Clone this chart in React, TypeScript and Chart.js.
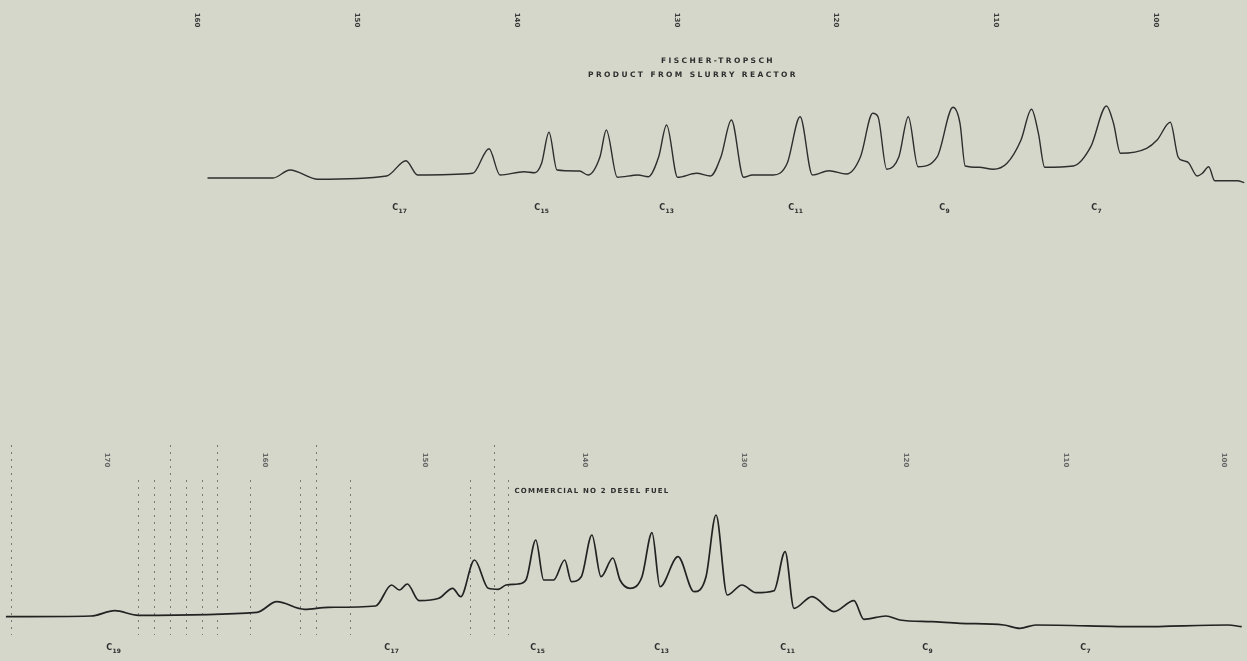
import React, { useEffect, useRef } from "react";
import { Chart, registerables } from "chart.js";
Chart.register(...registerables);

// ---- Top trace: Fischer-Tropsch product (position along chart, detector signal) ----
const topX = [207.5, 273, 290, 318, 386.6, 406, 417.6, 472.7, 489, 500, 524, 534.7, 541.6, 549, 557, 579.5, 588, 600, 606.3, 617.3, 638, 648.3, 658.7, 666.6, 677.6, 696.5, 710.5, 721, 731.4, 743.6, 752.3, 773.3, 787.2, 800.1, 812.4, 829, 846.5, 860.5, 872.7, 878, 886.7, 898.9, 908.3, 918, 937.3, 953, 960, 965.2, 979.1, 993.1, 1007, 1021, 1031.5, 1038.4, 1044.7, 1073.3, 1090.8, 1106.5, 1113.5, 1120.4, 1146.6, 1157.1, 1170.3, 1178, 1183.2, 1188.5, 1197.2, 1202.4, 1208.7, 1214.7, 1237.3, 1244.3];
const topY = [0, 0, 8, -1.3, 2, 17.3, 3, 4.7, 29.3, 3, 6.3, 5.3, 14.7, 45.7, 8, 7, 3, 21.3, 48, 0.7, 3, 1.3, 21.3, 53, 0.7, 4.7, 2, 21.3, 58, 0.7, 3, 3, 14.7, 61.3, 3, 7.3, 4, 21.3, 64.7, 61.3, 8.7, 21.3, 61.3, 11.3, 21.3, 70.7, 54.7, 12, 10.7, 8.7, 14.7, 38, 68.7, 44.7, 10.7, 12, 31.3, 72, 54.7, 24.7, 29.7, 38, 55.7, 21.3, 17.3, 15.3, 2, 4.7, 11.3, -2.7, -2.7, -4.7];

// ---- Bottom trace: commercial No. 2 diesel fuel ----
const botX = [5.9, 91, 114.7, 138.4, 257, 276.8, 304.5, 328.2, 375.6, 391.5, 399.4, 407.3, 419.1, 438.9, 452.7, 460.7, 474.5, 488.3, 498.2, 506.1, 518, 525.9, 535.8, 543.7, 553.6, 564.7, 571.4, 581.3, 591.9, 601, 612.9, 620, 630, 642, 652, 660, 678, 694, 706, 716, 727.2, 742, 756, 774, 785.1, 794, 812, 834, 853.9, 863.9, 885.9, 899.9, 931.9, 960, 1003.8, 1019.8, 1035.8, 1139.8, 1227.8, 1241.7];
const botY = [13.3, 14, 19.3, 14.7, 17.7, 28.3, 20.7, 22.7, 24, 45, 40, 46, 29.3, 31.7, 41.7, 33.3, 70, 41.7, 40.7, 45, 46, 50, 90, 50, 50, 70, 48.3, 53.3, 95, 53.3, 72, 50, 41.7, 53.3, 97.3, 43.3, 73.3, 38.3, 53.3, 115, 35, 45, 37.3, 39.3, 78.3, 21.7, 33.3, 18.3, 29.3, 10.7, 14, 10, 8.3, 6.7, 5, 1.7, 5, 3.3, 5, 3.3];

// ---- Peak identification labels (carbon number) ----
const topPeakNums = ["17", "15", "13", "11", "9", "7"];
const topPeakX = [398, 540, 665, 794, 945, 1097];
const botPeakNums = ["19", "17", "15", "13", "11", "9", "7"];
const botPeakX = [112, 390, 536, 660, 786, 928, 1086];

// ---- Temperature tick labels along the chart paper ----
const topTickLabels = ["160", "150", "140", "130", "120", "110", "100"];
const topTickX = [197, 357, 517, 677, 836, 996, 1156];
const botTickLabels = ["170", "160", "150", "140", "130", "120", "110", "100"];
const botTickX = [107, 265, 425, 585, 744, 906, 1066, 1224];

// ---- Recorder event marks (dotted verticals) on lower chart ----
const markerX = [11, 138, 154, 170, 186, 202, 217, 250, 300, 316, 350, 470, 494, 508];

// ---- Titles ----
const topTitle = ["FISCHER-TROPSCH", "PRODUCT FROM SLURRY REACTOR"];
const topTitleX = [718, 693];
const topTitleLevel = [117, 103];
const botTitle = "COMMERCIAL NO 2 DESEL FUEL";
const botTitleX = 592;
const botTitleLevel = 139;

const INK = "#2e2e2e";
const PAPER = "#d5d7ca";

const annotations = {
  id: "chromAnnotations",
  afterDatasetsDraw(chart: any) {
    const ctx = chart.ctx as CanvasRenderingContext2D;
    const xs = chart.scales.x;
    const yt = chart.scales.yTop;
    const yb = chart.scales.yBot;
    ctx.save();

    // event markers
    ctx.strokeStyle = "rgba(60,60,60,0.6)";
    ctx.lineWidth = 1;
    ctx.setLineDash([2, 5]);
    markerX.forEach((mx, i) => {
      const px = Math.round(xs.getPixelForValue(mx)) + 0.5;
      ctx.beginPath();
      ctx.moveTo(px, yb.getPixelForValue(i % 3 === 0 ? 185 : 150));
      ctx.lineTo(px, yb.getPixelForValue(-5));
      ctx.stroke();
    });
    ctx.setLineDash([]);

    // titles
    ctx.fillStyle = INK;
    ctx.textAlign = "center";
    ctx.textBaseline = "middle";
    ctx.font = "bold 7.5px 'DejaVu Sans'";
    (ctx as any).letterSpacing = "2.4px";
    topTitle.forEach((t, i) => {
      ctx.fillText(t, xs.getPixelForValue(topTitleX[i]), yt.getPixelForValue(topTitleLevel[i]));
    });
    (ctx as any).letterSpacing = "1.2px";
    ctx.font = "bold 7px 'DejaVu Sans'";
    ctx.fillText(botTitle, xs.getPixelForValue(botTitleX), yb.getPixelForValue(botTitleLevel));
    (ctx as any).letterSpacing = "0px";

    // carbon labels
    const drawC = (x: number, y: number, n: string) => {
      ctx.font = "bold 8px 'DejaVu Sans'";
      ctx.textAlign = "right";
      ctx.fillText("C", x, y);
      ctx.font = "bold 6px 'DejaVu Sans'";
      ctx.textAlign = "left";
      ctx.fillText(n, x + 0.5, y + 3);
    };
    topPeakNums.forEach((n, i) => drawC(xs.getPixelForValue(topPeakX[i]), yt.getPixelForValue(-30), n));
    botPeakNums.forEach((n, i) => drawC(xs.getPixelForValue(botPeakX[i]), yb.getPixelForValue(-18), n));

    // rotated tick labels
    const drawTick = (x: number, y: number, t: string, color: string) => {
      ctx.save();
      ctx.translate(x, y);
      ctx.rotate(Math.PI / 2);
      ctx.fillStyle = color;
      ctx.font = "bold 7px 'DejaVu Sans'";
      ctx.textAlign = "center";
      ctx.textBaseline = "middle";
      ctx.fillText(t, 0, 0);
      ctx.restore();
    };
    topTickLabels.forEach((t, i) => drawTick(xs.getPixelForValue(topTickX[i]), yt.getPixelForValue(158), t, "#3a3a3a"));
    botTickLabels.forEach((t, i) => drawTick(xs.getPixelForValue(botTickX[i]), yb.getPixelForValue(170), t, "#666"));

    ctx.restore();
  },
};

export default function App() {
  const ref = useRef<HTMLCanvasElement>(null);
  useEffect(() => {
    document.body.style.margin = "0";
    const chart = new Chart(ref.current!, {
      type: "line",
      data: {
        datasets: [
          {
            label: "Fischer-Tropsch product from slurry reactor",
            data: topX.map((x, i) => ({ x, y: topY[i] })),
            yAxisID: "yTop",
            borderColor: INK,
            borderWidth: 1.4,
            pointRadius: 0,
            cubicInterpolationMode: "monotone",
            fill: false,
          },
          {
            label: "Commercial No 2 diesel fuel",
            data: botX.map((x, i) => ({ x, y: botY[i] })),
            yAxisID: "yBot",
            borderColor: "#222",
            borderWidth: 1.7,
            pointRadius: 0,
            cubicInterpolationMode: "monotone",
            fill: false,
          },
        ],
      },
      options: {
        animation: false,
        responsive: false,
        devicePixelRatio: 1,
        layout: { padding: 0 },
        plugins: { legend: { display: false }, tooltip: { enabled: false }, title: { display: false } },
        scales: {
          x: { type: "linear", min: 0, max: 1247, display: false },
          yTop: { type: "linear", min: -483, max: 178, display: false },
          yBot: { type: "linear", min: -31, max: 630, display: false },
        },
      },
      plugins: [annotations],
    });
    return () => chart.destroy();
  }, []);
  return (
    <div style={{ position: "fixed", left: 0, top: 0, width: 1247, height: 661, background: PAPER }}>
      <canvas ref={ref} width={1247} height={661} style={{ display: "block" }} />
    </div>
  );
}
